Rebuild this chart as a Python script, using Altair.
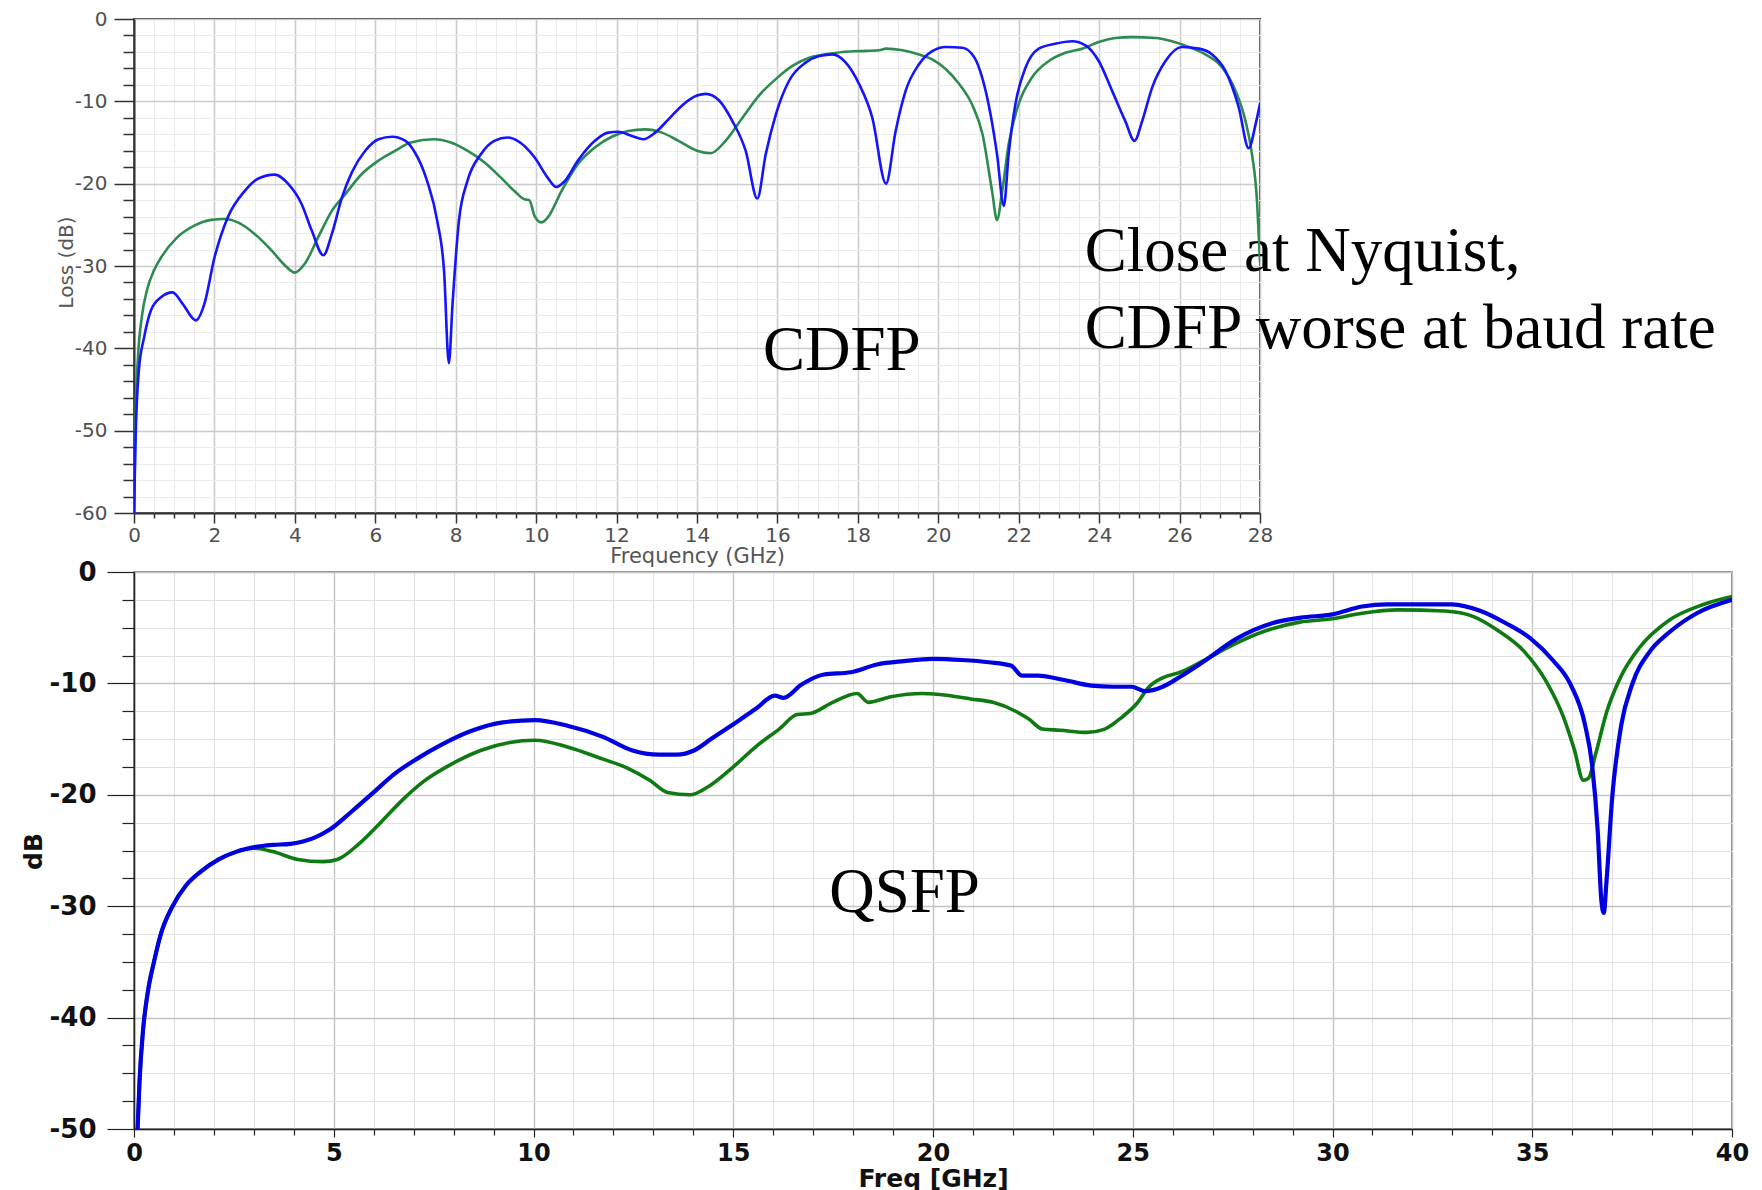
import altair as alt
import pandas as pd

# ---------------- CDFP (top panel) ----------------
top_blue_f = [0.0, 0.04, 0.12, 0.25, 0.42, 0.67, 0.96, 1.21, 1.54, 1.75, 2.0, 2.33, 2.75, 3.08, 3.5,
              3.83, 4.17, 4.42, 4.71, 4.92, 5.17, 5.42, 5.75, 6.08, 6.42, 6.75, 6.96, 7.29, 7.54, 7.71,
              7.83, 7.92, 8.08, 8.29, 8.63, 8.96, 9.29, 9.54, 9.96, 10.29, 10.5, 10.71, 11.04, 11.46,
              11.79, 12.04, 12.38, 12.67, 12.96, 13.29, 13.63, 14.0, 14.22, 14.55, 14.88, 15.21, 15.5,
              15.71, 15.96, 16.29, 16.7, 17.04, 17.37, 17.7, 18.03, 18.36, 18.7, 18.94, 19.19, 19.52,
              19.85, 20.19, 20.6, 20.9, 21.09, 21.3, 21.46, 21.63, 21.75, 21.92, 22.17, 22.5, 22.91,
              23.33, 23.66, 23.99, 24.32, 24.65, 24.88, 25.07, 25.32, 25.65, 26.06, 26.48, 26.81,
              27.14, 27.47, 27.72, 27.89, 28.0]
top_blue_db = [-60.0, -50.8, -42.7, -38.7, -35.4, -33.8, -33.2, -34.6, -36.6, -34.6, -29.0, -24.1,
               -20.9, -19.4, -18.9, -20.0, -22.5, -25.7, -28.7, -26.1, -21.7, -18.6, -16.0, -14.6,
               -14.3, -14.8, -16.0, -19.7, -24.5, -30.6, -41.8, -34.7, -24.5, -19.7, -16.4, -14.8,
               -14.4, -14.8, -16.8, -19.3, -20.4, -19.7, -17.2, -14.8, -13.8, -13.7, -14.2, -14.6,
               -13.8, -12.2, -10.5, -9.3, -9.1, -9.9, -12.4, -16.0, -21.8, -16.4, -11.6, -7.5, -5.3,
               -4.5, -4.3, -5.3, -7.9, -12.0, -20.0, -13.6, -8.7, -5.5, -3.9, -3.4, -3.5, -4.7, -7.1,
               -11.6, -16.4, -22.7, -16.4, -10.3, -5.9, -3.6, -3.0, -2.7, -3.2, -5.1, -8.7, -12.4,
               -14.8, -12.4, -8.3, -5.1, -3.4, -3.6, -4.3, -6.3, -10.7, -15.7, -12.8, -10.3]

top_green_f = [0.0, 0.04, 0.1, 0.2, 0.33, 0.5, 0.67, 1.08, 1.5, 1.92, 2.25, 2.58, 3.0, 3.42, 3.75,
               4.0, 4.25, 4.58, 4.92, 5.25, 5.67, 6.08, 6.5, 6.88, 7.46, 7.88, 8.29, 8.71, 9.13, 9.46,
               9.71, 9.83, 9.96, 10.13, 10.29, 10.63, 11.04, 11.46, 11.88, 12.29, 12.71, 13.13, 13.54,
               14.0, 14.34, 14.71, 15.13, 15.54, 15.96, 16.37, 16.79, 17.2, 17.62, 18.03, 18.53, 18.7,
               19.11, 19.52, 19.85, 20.19, 20.52, 20.85, 21.1, 21.34, 21.46, 21.59, 21.75, 22.0, 22.33,
               22.75, 23.16, 23.58, 23.99, 24.41, 24.82, 25.4, 25.81, 26.23, 26.64, 27.06, 27.39,
               27.64, 27.8, 27.93, 27.97, 28.0]
top_green_db = [-60.0, -48.0, -41.0, -36.0, -32.8, -30.5, -29.0, -26.5, -25.1, -24.4, -24.3, -24.7,
                -26.1, -28.1, -29.9, -30.8, -29.7, -26.5, -23.3, -21.3, -18.8, -17.2, -16.0, -15.0,
                -14.6, -15.0, -16.0, -17.4, -19.3, -20.9, -21.9, -22.0, -23.9, -24.7, -24.1, -20.9,
                -17.6, -15.6, -14.3, -13.6, -13.4, -13.8, -14.8, -16.0, -16.3, -14.8, -12.0, -9.3,
                -7.3, -5.7, -4.7, -4.3, -4.0, -3.9, -3.8, -3.6, -3.8, -4.3, -4.9, -6.1, -7.9, -10.5,
                -14.0, -21.0, -24.4, -20.9, -15.2, -10.3, -7.1, -5.1, -4.1, -3.6, -2.8, -2.3, -2.2,
                -2.3, -2.7, -3.4, -4.3, -5.9, -8.7, -12.4, -16.4, -22.5, -26.5, -29.5]

top_note_text = ["CDFP", "Close at Nyquist,", "CDFP worse at baud rate"]
top_note_f = [15.64, 23.64, 23.64]
top_note_db = [-42.6, -30.6, -40.0]

# ---------------- QSFP (bottom panel) ----------------
bot_blue_f = [0.09, 0.14, 0.23, 0.36, 0.5, 0.68, 0.95, 1.31, 1.67, 2.12, 2.57, 3.02, 3.47, 3.92, 4.55,
              4.91, 5.45, 5.99, 6.53, 7.07, 7.7, 8.42, 9.23, 10.04, 10.85, 11.74, 12.46, 13.14, 13.58,
              14.03, 14.48, 15.03, 15.59, 16.04, 16.26, 16.71, 17.27, 17.94, 18.6, 19.27, 20.0, 20.73,
              21.4, 21.95, 22.23, 22.62, 23.29, 23.96, 24.52, 24.97, 25.3, 25.75, 26.19, 26.75, 27.59,
              28.49, 29.21, 30.0, 30.74, 31.37, 32.09, 32.99, 33.71, 34.34, 34.97, 35.51, 35.96, 36.32,
              36.5, 36.64, 36.73, 36.79, 36.86, 37.0, 37.23, 37.5, 37.95, 38.4, 39.12, 40.0]
bot_blue_db = [-50.0, -45.6, -41.0, -37.4, -35.0, -32.4, -30.1, -28.1, -26.9, -25.8, -25.1, -24.7,
               -24.5, -24.4, -23.8, -23.1, -21.5, -19.8, -18.1, -16.8, -15.5, -14.3, -13.5, -13.3,
               -13.8, -14.8, -16.0, -16.4, -16.4, -16.0, -14.9, -13.6, -12.2, -11.1, -11.3, -10.1,
               -9.2, -9.0, -8.3, -8.0, -7.8, -7.9, -8.1, -8.4, -9.3, -9.3, -9.7, -10.2, -10.3, -10.3,
               -10.7, -10.3, -9.4, -8.1, -6.0, -4.6, -4.1, -3.8, -3.1, -2.9, -2.9, -2.9, -3.5, -4.6,
               -6.0, -7.9, -10.1, -13.7, -17.4, -23.3, -29.5, -30.6, -27.7, -20.3, -13.7, -10.1,
               -7.1, -5.5, -3.7, -2.5]

bot_green_f = [0.09, 0.14, 0.23, 0.36, 0.5, 0.68, 0.95, 1.31, 1.67, 2.12, 2.57, 3.02, 3.47, 4.1, 4.73,
               5.09, 5.63, 6.17, 6.71, 7.25, 7.97, 8.69, 9.4, 10.04, 10.85, 11.74, 12.35, 12.91, 13.36,
               13.92, 14.36, 15.03, 15.59, 16.15, 16.6, 16.93, 17.49, 18.1, 18.38, 18.94, 19.72,
               20.17, 20.95, 21.5, 22.07, 22.4, 22.74, 23.18, 23.85, 24.3, 24.74, 25.08, 25.41, 25.75,
               26.19, 26.75, 27.53, 28.31, 29.18, 30.0, 30.74, 31.64, 32.81, 33.53, 34.16, 34.79,
               35.33, 35.78, 36.05, 36.28, 36.41, 36.59, 36.86, 37.23, 37.68, 38.4, 39.3, 40.0]
bot_green_db = [-50.0, -45.6, -41.0, -37.4, -35.0, -32.4, -30.1, -28.1, -26.9, -25.8, -25.1, -24.8,
                -25.1, -25.8, -26.0, -25.8, -24.4, -22.5, -20.5, -18.8, -17.2, -16.0, -15.3, -15.1,
                -15.7, -16.8, -17.6, -18.7, -19.8, -20.0, -19.3, -17.4, -15.6, -14.1, -12.8, -12.7,
                -11.7, -10.9, -11.7, -11.2, -10.9, -11.0, -11.4, -11.7, -12.5, -13.2, -14.1, -14.2,
                -14.4, -14.1, -13.0, -11.9, -10.3, -9.5, -9.0, -8.0, -6.5, -5.3, -4.5, -4.2, -3.7,
                -3.4, -3.5, -4.0, -5.3, -7.1, -9.7, -13.0, -15.9, -18.7, -18.5, -16.3, -12.6, -9.3,
                -6.8, -4.4, -2.9, -2.2]

bot_note_text = ["QSFP"]
bot_note_f = [17.40]
bot_note_db = [-30.53]

# tick positions
top_x_ticks = [i / 2 for i in range(0, 57)]
top_y_ticks = list(range(-60, 1, 2))
bot_x_ticks = list(range(0, 41))
bot_y_ticks = [-50 + 2.5 * i for i in range(21)]


def cond(test, major, minor):
    return {"condition": {"test": test, "value": major}, "value": minor}


# ---------- top axes ----------
tx_major = "datum.value % 2 === 0"
ty_major = "datum.value % 10 === 0"
top_xaxis = alt.Axis(
    values=top_x_ticks, labelExpr=f"{tx_major} ? '' + datum.value : ''",
    grid=True, gridColor=cond(tx_major, "#cccccc", "#ebebeb"), gridWidth=cond(tx_major, 1.6, 1.0),
    tickSize=cond(tx_major, 10, 5), tickColor="#333333", tickWidth=1.5,
    domainColor="#333333", domainWidth=2,
    labelFont="DejaVu Sans", labelFontSize=20, labelColor="#505050", labelPadding=2,
    labelOverlap=False, labelFlush=False, labelBound=False,
    title="Frequency (GHz)", titleFont="DejaVu Sans", titleFontSize=21, titleFontWeight="normal",
    titleColor="#555555", titlePadding=0)
top_yaxis = alt.Axis(
    values=top_y_ticks, labelExpr=f"{ty_major} ? '' + datum.value : ''",
    grid=True, gridColor=cond(ty_major, "#cccccc", "#ebebeb"), gridWidth=cond(ty_major, 1.6, 1.0),
    tickSize=cond(ty_major, 20, 11), tickColor="#333333", tickWidth=1.5,
    domainColor="#333333", domainWidth=2,
    labelFont="DejaVu Sans", labelFontSize=20, labelColor="#505050", labelPadding=7,
    labelOverlap=False, labelFlush=False, labelBound=False,
    title="Loss (dB)", titleFont="DejaVu Sans", titleFontSize=20, titleFontWeight="normal",
    titleColor="#555555", titleAngle=270, titleBaseline="middle", titleAlign="center",
    titleX=-68, titleY=243)

# ---------- bottom axes ----------
bx_major = "datum.value % 5 === 0"
by_major = "datum.value % 10 === 0"
bot_xaxis = alt.Axis(
    values=bot_x_ticks, labelExpr=f"{bx_major} ? '' + datum.value : ''",
    grid=True, gridColor=cond(bx_major, "#c4c4c4", "#e2e2e2"), gridWidth=cond(bx_major, 1.4, 1.0),
    tickSize=cond(bx_major, 8, 6), tickColor="#222222", tickWidth=1.2,
    domainColor="#222222", domainWidth=1.5,
    labelFont="DejaVu Sans", labelFontSize=24, labelFontWeight="bold", labelColor="#111111",
    labelPadding=4, labelOverlap=False, labelFlush=False, labelBound=False,
    title="Freq [GHz]", titleFont="DejaVu Sans", titleFontSize=25, titleFontWeight="bold",
    titleColor="#111111", titlePadding=1)
bot_yaxis = alt.Axis(
    values=bot_y_ticks, labelExpr=f"{by_major} ? '' + datum.value : ''",
    grid=True, gridColor=cond(by_major, "#c4c4c4", "#e2e2e2"), gridWidth=cond(by_major, 1.4, 1.0),
    tickSize=cond(by_major, 27, 12), tickColor="#222222", tickWidth=1.2,
    domainColor="#222222", domainWidth=1.5,
    labelFont="DejaVu Sans", labelFontSize=26, labelFontWeight="bold", labelColor="#111111",
    labelPadding=11, labelOverlap=False, labelFlush=False, labelBound=False,
    title="dB", titleFont="DejaVu Sans", titleFontSize=25, titleFontWeight="bold",
    titleColor="#111111", titleAngle=270, titleBaseline="middle", titleAlign="center",
    titleX=-101, titleY=279)


def xy(xaxis, yaxis, xdom, ydom):
    return dict(
        x=alt.X("f:Q", scale=alt.Scale(domain=xdom, nice=False, zero=False), axis=xaxis),
        y=alt.Y("db:Q", scale=alt.Scale(domain=ydom, nice=False, zero=False), axis=yaxis),
    )


def curve(f, db, color, width, enc):
    d = pd.DataFrame({"f": f, "db": db})
    return alt.Chart(d).mark_line(color=color, strokeWidth=width, interpolate="monotone",
                                  clip=True, strokeJoin="round", strokeCap="round").encode(**enc)


def notes(text, f, db, enc):
    d = pd.DataFrame({"t": text, "f": f, "db": db})
    return alt.Chart(d).mark_text(font="Liberation Serif", fontSize=63, color="#000000",
                                  align="left", baseline="alphabetic").encode(text="t:N", **enc)


top_enc = xy(top_xaxis, top_yaxis, [0, 28], [-60, 0])
bot_enc = xy(bot_xaxis, bot_yaxis, [0, 40], [-50, 0])

top = alt.layer(
    notes(top_note_text, top_note_f, top_note_db, top_enc),
    curve(top_green_f, top_green_db, "#2e8b50", 2.6, top_enc),
    curve(top_blue_f, top_blue_db, "#1414ff", 2.6, top_enc),
).properties(width=1126, height=494,
             view=alt.ViewBackground(stroke="#404040", strokeWidth=2, fill="white"))

bottom = alt.layer(
    notes(bot_note_text, bot_note_f, bot_note_db, bot_enc),
    curve(bot_green_f, bot_green_db, "#0f7a12", 3.6, bot_enc),
    curve(bot_blue_f, bot_blue_db, "#0000e0", 4.2, bot_enc),
).properties(width=1598, height=557,
             view=alt.ViewBackground(stroke="#666666", strokeWidth=1.5, fill="white"))

chart = alt.vconcat(top, bottom, spacing=59, bounds="flush").properties(
    padding={"left": 12, "top": 0, "right": 0, "bottom": 0},
    background="white",
)

chart.save("out.html", embed_options={"renderer": "svg", "actions": False})
